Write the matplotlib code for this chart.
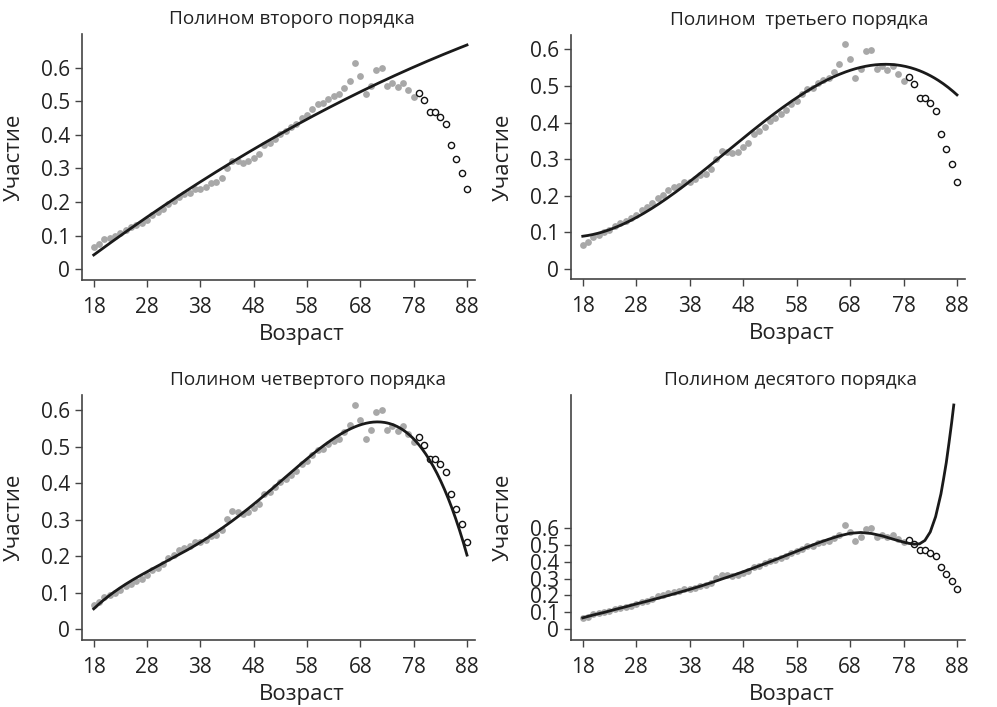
import numpy as np
import matplotlib
matplotlib.use("Agg")
import matplotlib.pyplot as plt

plt.rcParams['font.family'] = ['Open Sans', 'DejaVu Sans']

# ---- data ----
ages_train = list(range(18, 79))
part_train = [0.066, 0.075, 0.089, 0.094, 0.100, 0.107, 0.118, 0.125, 0.132, 0.139,
              0.148, 0.162, 0.169, 0.180, 0.194, 0.203, 0.216, 0.223, 0.228, 0.239,
              0.239, 0.245, 0.256, 0.259, 0.273, 0.301, 0.323, 0.321, 0.316, 0.321,
              0.332, 0.344, 0.369, 0.377, 0.389, 0.403, 0.412, 0.423, 0.433, 0.451,
              0.460, 0.477, 0.491, 0.494, 0.507, 0.515, 0.521, 0.539, 0.560, 0.614,
              0.574, 0.522, 0.546, 0.594, 0.599, 0.545, 0.555, 0.543, 0.555, 0.533,
              0.513]
ages_test = list(range(79, 89))
part_test = [0.525, 0.505, 0.467, 0.467, 0.453, 0.431, 0.370, 0.328, 0.287, 0.238]

# 10th-order curve
curve10_ages = [18, 20, 22, 24, 26, 28, 30, 32, 34, 36, 38, 40, 42, 44, 46, 48, 50,
                52, 54, 56, 58, 60, 62, 64, 66, 68, 70, 72, 74, 76, 78, 79, 80, 81,
                82, 83, 84, 85, 85.5, 86, 86.5, 87, 87.4]
curve10_vals = [0.068, 0.085, 0.100, 0.117, 0.133, 0.150, 0.166, 0.183, 0.200, 0.218,
                0.236, 0.255, 0.275, 0.297, 0.318, 0.340, 0.363, 0.387, 0.411, 0.436,
                0.461, 0.486, 0.510, 0.532, 0.552, 0.567, 0.572, 0.566, 0.552, 0.533,
                0.515, 0.508, 0.503, 0.505, 0.525, 0.575, 0.665, 0.800, 0.890, 0.985,
                1.100, 1.220, 1.325]

degrees = [2, 3, 4, 10]
titles = ["Полином второго порядка", "Полином  третьего порядка",
          "Полином четвертого порядка", "Полином десятого порядка"]
xticks = [18, 28, 38, 48, 58, 68, 78, 88]
yticks = [0, 0.1, 0.2, 0.3, 0.4, 0.5, 0.6]
yticklabels = ["0", "0.1", "0.2", "0.3", "0.4", "0.5", "0.6"]
xlabel = "Возраст"
ylabel = "Участие"

# ---- layout ----
W, H = 997, 707
fig = plt.figure(figsize=(W / 100, H / 100), dpi=100)

def frac(l, t, r, b):
    return [l / W, 1 - b / H, (r - l) / W, (b - t) / H]

rects = [frac(82, 34, 475, 280), frac(571, 35, 965, 279),
         frac(82, 395, 475, 640), frac(571, 395, 965, 640)]
ylims = [(-0.032, 0.70), (-0.027, 0.639), (-0.029, 0.641), (-0.063, 1.384)]
title_x = [0.534, 0.58, 0.575, 0.556]

xs = np.linspace(18, 88, 300)
for i, deg in enumerate(degrees):
    ax = fig.add_axes(rects[i])
    ax.scatter(ages_train, part_train, s=24, color="#a8a8a8", linewidths=0, zorder=2)
    ax.scatter(ages_test, part_test, s=20, facecolors="white", edgecolors="#111111",
               linewidths=1.0, zorder=3)
    if deg == 10:
        ax.plot(curve10_ages, curve10_vals, color="#1a1a1a", lw=2.0, zorder=4)
    else:
        model = np.polynomial.Polynomial.fit(ages_train, part_train, deg)
        ax.plot(xs, model(xs), color="#1a1a1a", lw=2.0, zorder=4)

    ax.set_xlim(15.8, 89.5)
    ax.set_ylim(*ylims[i])
    ax.set_xticks(xticks)
    ax.set_yticks(yticks)
    ax.set_yticklabels(yticklabels)
    for s in ["top", "right"]:
        ax.spines[s].set_visible(False)
    for s in ["left", "bottom"]:
        ax.spines[s].set_color("#444444")
        ax.spines[s].set_linewidth(1.2)
    ax.tick_params(axis="x", length=5, width=1.0, color="#444444", pad=7.5,
                   labelsize=15, labelcolor="#222222")
    ax.tick_params(axis="y", length=5, width=1.0, color="#444444", pad=3.5,
                   labelsize=15, labelcolor="#222222")
    ax.set_title(titles[i], fontsize=13.7, color="#222222", x=title_x[i], pad=7)
    ax.set_xlabel(xlabel, fontsize=16, color="#222222")
    ax.set_ylabel(ylabel, fontsize=16, color="#222222")
    ax.xaxis.set_label_coords(0.56, -0.18)
    ax.yaxis.set_label_coords(-0.145, 0.5)

fig.savefig("out.png", dpi=100)
